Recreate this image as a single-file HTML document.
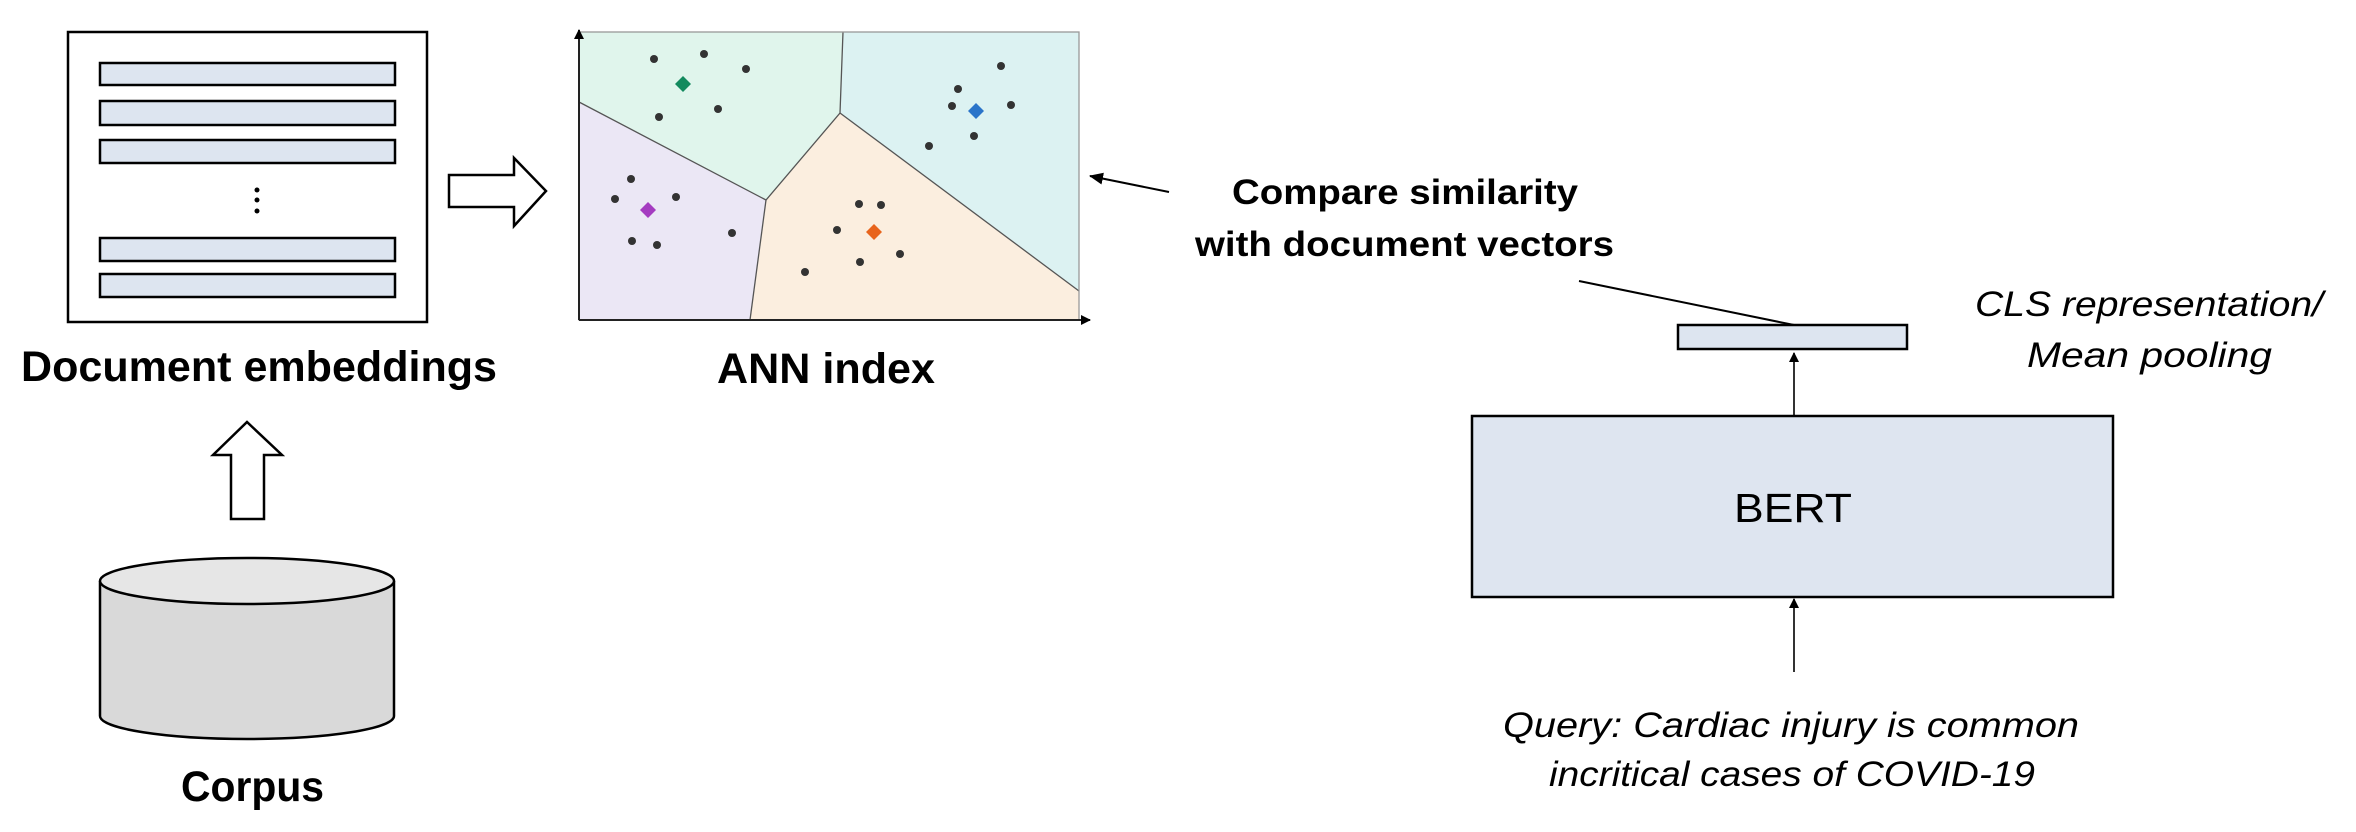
<!DOCTYPE html>
<html><head><meta charset="utf-8"><style>html,body{margin:0;padding:0;background:#fff}svg{display:block}</style></head>
<body>
<svg width="2356" height="832" viewBox="0 0 2356 832" xmlns="http://www.w3.org/2000/svg" font-family="'Liberation Sans', sans-serif">
<defs>
<marker id="ah" markerWidth="10" markerHeight="10" refX="9" refY="5" orient="auto" markerUnits="userSpaceOnUse"><path d="M0,0 L10,5 L0,10 z" fill="#000"/></marker>
<marker id="ah2" markerWidth="14" markerHeight="14" refX="13" refY="7" orient="auto" markerUnits="userSpaceOnUse"><path d="M0,1 L14,7 L0,13 z" fill="#000"/></marker>
</defs>
<rect x="68" y="32" width="359" height="290" fill="#fff" stroke="#000" stroke-width="2.5"/>
<g fill="#dde5f0" stroke="#000" stroke-width="2.5">
<rect x="100" y="63" width="295" height="22"/>
<rect x="100" y="101" width="295" height="24"/>
<rect x="100" y="140" width="295" height="23"/>
<rect x="100" y="238" width="295" height="23"/>
<rect x="100" y="274" width="295" height="23"/>
</g>
<circle cx="257" cy="190" r="2.5"/><circle cx="257" cy="200" r="2.5"/><circle cx="257" cy="211" r="2.5"/>
<text x="21" y="381" font-size="43" font-weight="bold" textLength="476" lengthAdjust="spacingAndGlyphs">Document embeddings</text>
<path d="M449,175 L514,175 L514,158 L546,191 L514,226 L514,207 L449,207 Z" fill="#fff" stroke="#000" stroke-width="2.5"/>
<path d="M231,519 L231,455 L213,455 L247,422 L282,455 L264,455 L264,519 Z" fill="#fff" stroke="#000" stroke-width="2.5"/>
<path d="M100,581 L100,716 A147,23 0 0 0 394,716 L394,581" fill="#d9d9d9" stroke="#000" stroke-width="2.5"/>
<ellipse cx="247" cy="581" rx="147" ry="23" fill="#e6e6e6" stroke="#000" stroke-width="2.5"/>
<text x="181" y="801" font-size="43" font-weight="bold" textLength="143" lengthAdjust="spacingAndGlyphs">Corpus</text>
<polygon points="579,32 843,32 840,113 766,200 579,102" fill="#e0f5ec"/>
<polygon points="843,32 1079,32 1079,291 840,113" fill="#dcf2f2"/>
<polygon points="579,102 766,200 750,320 579,320" fill="#ebe7f5"/>
<polygon points="766,200 840,113 1079,291 1079,320 750,320" fill="#fbeedf"/>
<g stroke="#555" stroke-width="1.3" fill="none">
<polyline points="579,102 766,200 840,113 843,32"/>
<line x1="766" y1="200" x2="750" y2="320"/>
<line x1="840" y1="113" x2="1079" y2="291"/>
<rect x="579" y="32" width="500" height="288" stroke="#999"/>
</g>
<line x1="579" y1="320" x2="579" y2="30" stroke="#222" stroke-width="2" marker-end="url(#ah)"/>
<line x1="579" y1="320" x2="1090" y2="320" stroke="#222" stroke-width="2" marker-end="url(#ah)"/>
<g fill="#333">
<circle cx="654" cy="59" r="4"/><circle cx="704" cy="54" r="4"/><circle cx="746" cy="69" r="4"/><circle cx="659" cy="117" r="4"/><circle cx="718" cy="109" r="4"/>
<circle cx="1001" cy="66" r="4"/><circle cx="958" cy="89" r="4"/><circle cx="952" cy="106" r="4"/><circle cx="1011" cy="105" r="4"/><circle cx="974" cy="136" r="4"/><circle cx="929" cy="146" r="4"/>
<circle cx="631" cy="179" r="4"/><circle cx="615" cy="199" r="4"/><circle cx="676" cy="197" r="4"/><circle cx="632" cy="241" r="4"/><circle cx="657" cy="245" r="4"/><circle cx="732" cy="233" r="4"/>
<circle cx="859" cy="204" r="4"/><circle cx="881" cy="205" r="4"/><circle cx="837" cy="230" r="4"/><circle cx="900" cy="254" r="4"/><circle cx="860" cy="262" r="4"/><circle cx="805" cy="272" r="4"/>
</g>
<polygon points="683,76 691,84 683,92 675,84" fill="#138a5e"/>
<polygon points="976,103 984,111 976,119 968,111" fill="#2a74c9"/>
<polygon points="648,202 656,210 648,218 640,210" fill="#a43cc0"/>
<polygon points="874,224 882,232 874,240 866,232" fill="#e8641c"/>
<text x="717" y="383" font-size="43" font-weight="bold" textLength="218" lengthAdjust="spacingAndGlyphs">ANN index</text>
<line x1="1169" y1="192" x2="1090" y2="176" stroke="#000" stroke-width="2" marker-end="url(#ah2)"/>
<text x="1232" y="204" font-size="35" font-weight="bold" textLength="346" lengthAdjust="spacingAndGlyphs">Compare similarity</text>
<text x="1195" y="256" font-size="35" font-weight="bold" textLength="419" lengthAdjust="spacingAndGlyphs">with document vectors</text>
<line x1="1579" y1="281" x2="1794" y2="325" stroke="#000" stroke-width="2"/>
<rect x="1678" y="325" width="229" height="24" fill="#dde5f0" stroke="#000" stroke-width="2.5"/>
<text x="1975" y="316" font-size="35" font-style="italic" textLength="348" lengthAdjust="spacingAndGlyphs">CLS representation/</text>
<text x="2027" y="367" font-size="35" font-style="italic" textLength="245" lengthAdjust="spacingAndGlyphs">Mean pooling</text>
<line x1="1794" y1="416" x2="1794" y2="353" stroke="#000" stroke-width="1.6" marker-end="url(#ah)"/>
<rect x="1472" y="416" width="641" height="181" fill="#dee5f0" stroke="#000" stroke-width="2.5"/>
<text x="1793" y="522" font-size="41" text-anchor="middle" textLength="118" lengthAdjust="spacingAndGlyphs">BERT</text>
<line x1="1794" y1="672" x2="1794" y2="599" stroke="#000" stroke-width="1.6" marker-end="url(#ah)"/>
<text x="1503" y="737" font-size="35" font-style="italic" textLength="576" lengthAdjust="spacingAndGlyphs">Query: Cardiac injury is common</text>
<text x="1549" y="786" font-size="35" font-style="italic" textLength="486" lengthAdjust="spacingAndGlyphs">incritical cases of COVID-19</text>
</svg>
</body></html>
